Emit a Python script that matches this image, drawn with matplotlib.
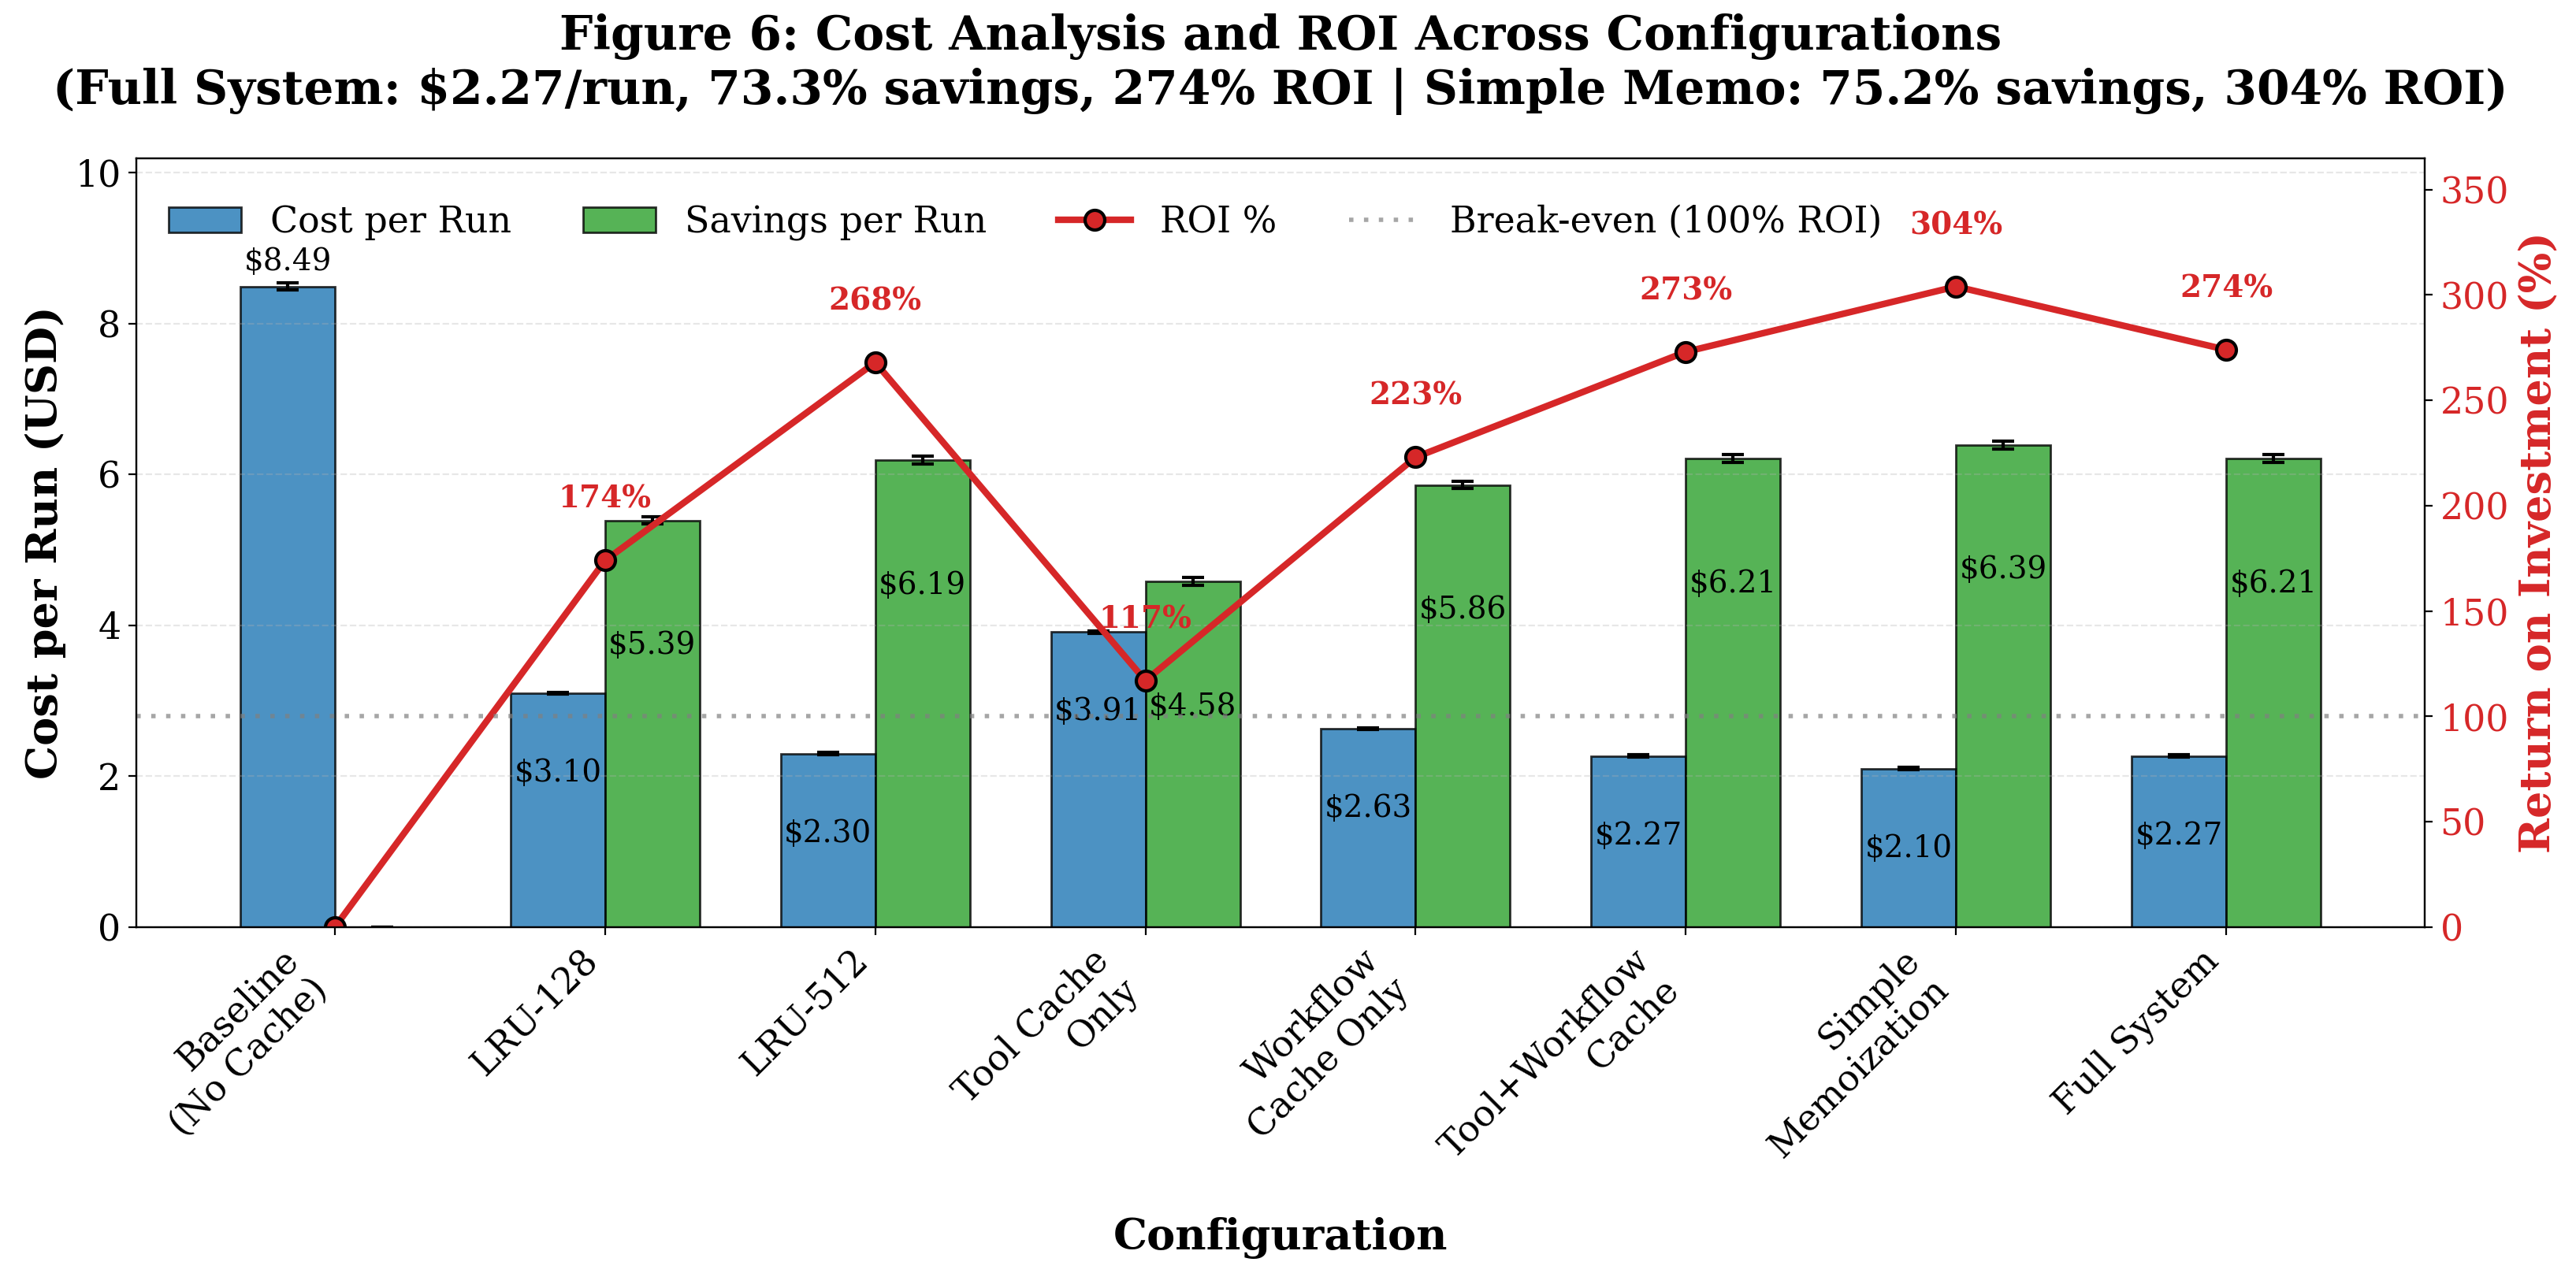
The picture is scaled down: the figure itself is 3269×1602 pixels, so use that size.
import matplotlib.pyplot as plt
import numpy as np

plt.rcParams['font.family'] = 'DejaVu Serif'

# Configurations and measured values
configs = ['Baseline\n(No Cache)', 'LRU-128', 'LRU-512', 'Tool Cache\nOnly',
           'Workflow\nCache Only', 'Tool+Workflow\nCache', 'Simple\nMemoization',
           'Full System']
cost = [8.49, 3.10, 2.30, 3.91, 2.63, 2.27, 2.10, 2.27]
cost_err = [0.05, 0.015, 0.015, 0.02, 0.015, 0.015, 0.015, 0.015]
savings = [0.00, 5.39, 6.19, 4.58, 5.86, 6.21, 6.39, 6.21]
savings_err = [0.0, 0.05, 0.05, 0.05, 0.05, 0.05, 0.05, 0.05]
roi = [0, 174, 268, 117, 223, 273, 304, 274]

x = np.arange(len(configs))
width = 0.35

fig, ax = plt.subplots(figsize=(16.345, 8.01), dpi=200)
fig.subplots_adjust(left=0.0529, right=0.9413, bottom=0.2653, top=0.8745)

bars1 = ax.bar(x - width/2, cost, width, yerr=cost_err, capsize=5,
               label='Cost per Run', color='#1f77b4', alpha=0.8,
               edgecolor='black', linewidth=1,
               error_kw=dict(elinewidth=1.5, capthick=1.5, ecolor='black'))
bars2 = ax.bar(x + width/2, savings, width, yerr=savings_err, capsize=5,
               label='Savings per Run', color='#2ca02c', alpha=0.8,
               edgecolor='black', linewidth=1,
               error_kw=dict(elinewidth=1.5, capthick=1.5, ecolor='black'))

# Value labels
for i, b in enumerate(bars1):
    h = b.get_height()
    if i == 0:
        ax.text(b.get_x() + b.get_width()/2, h + 0.33, f'${h:.2f}',
                ha='center', va='center', fontsize=14)
    else:
        ax.text(b.get_x() + b.get_width()/2, h - 1.06, f'${h:.2f}',
                ha='center', va='center', fontsize=14)
for i, b in enumerate(bars2):
    h = b.get_height()
    if h > 0:
        ax.text(b.get_x() + b.get_width()/2, h - 1.66, f'${h:.2f}',
                ha='center', va='center', fontsize=14)

ax.set_xlabel('Configuration', fontsize=19.5, fontweight='bold', labelpad=10)
ax.set_ylabel('Cost per Run (USD)', fontsize=19.5, fontweight='bold')
ax.set_xticks(x)
ax.set_xticklabels(configs, rotation=45, ha='right', fontsize=16.5)
ax.tick_params(axis='y', labelsize=16.5)
ax.set_ylim(0, max(cost) * 1.2)
ax.grid(axis='y', linestyle='--', alpha=0.3)

# ROI on secondary axis
ax2 = ax.twinx()
ax2.plot(x, roi, color='#d62728', linewidth=3, marker='o', markersize=9,
         markeredgecolor='black', markeredgewidth=1.5, label='ROI %')
ax2.axhline(100, color='gray', linestyle=(0, (1, 2.4)), linewidth=2, alpha=0.7,
            label='Break-even (100% ROI)')
for xi, r in zip(x, roi):
    if r > 0:
        ax2.text(xi, r + 29, f'{r:.0f}%', ha='center', va='center',
                 fontsize=14, fontweight='bold', color='#d62728')
ax2.set_ylabel('Return on Investment (%)', fontsize=19.5, fontweight='bold',
               color='#d62728')
ax2.tick_params(axis='y', labelcolor='#d62728', labelsize=16.5)
ax2.set_ylim(0, max(roi) * 1.2)

h1, l1 = ax.get_legend_handles_labels()
h2, l2 = ax2.get_legend_handles_labels()
ax2.legend(h1 + h2, l1 + l2, loc='upper left', ncol=4, fontsize=16.5,
           frameon=False, bbox_to_anchor=(0, 0.982))

ax.set_title('Figure 6: Cost Analysis and ROI Across Configurations\n'
             '(Full System: $2.27/run, 73.3% savings, 274% ROI | '
             'Simple Memo: 75.2% savings, 304% ROI)',
             fontsize=21.5, fontweight='bold', pad=25)

plt.savefig('out.png', dpi=200)
